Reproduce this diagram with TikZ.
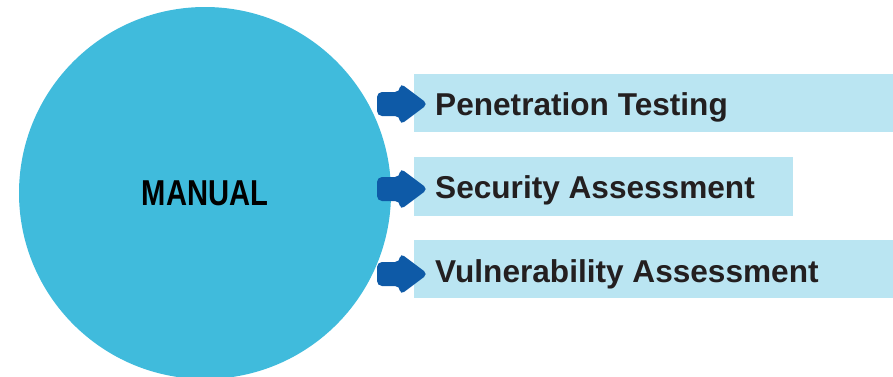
\documentclass[tikz,border=0pt]{standalone}
\usepackage{fontspec}
\setmainfont{Liberation Sans}
\definecolor{circblue}{HTML}{40BBDC}
\definecolor{barblue}{HTML}{BAE5F2}
\definecolor{arrblue}{HTML}{0E5AA7}
\definecolor{txt}{HTML}{231F20}
\tikzset{
  x=1pt,y=-1pt,
  bar/.style={fill=barblue,draw=none,anchor=north west,inner sep=0pt},
  label/.style={anchor=base west,inner sep=0pt,text=txt,font=\fontsize{31.6}{36}\selectfont\bfseries},
  arrowshape/.pic={
    \fill[arrblue,rounded corners=5pt] (-26,-12) -- (-3,-12) -- (-3,-21) -- (25,0) -- (-3,21) -- (-3,12) -- (-26,12) -- cycle;
  }
}
\begin{document}
\begin{tikzpicture}
\useasboundingbox (0,0) rectangle (893,376);
\clip (0,0) rectangle (893,376);
\node[circle,fill=circblue,minimum size=372pt,inner sep=0pt] (manual) at (205,193) {};
\node[text=black,font=\fontsize{36}{40}\selectfont\bfseries,inner sep=0pt] (manualtext) at (205,193) {\scalebox{0.81}[1]{MANUAL}};
\node[bar,minimum width=479pt,minimum height=58pt] (bar1) at (414,74) {};
\node[bar,minimum width=379pt,minimum height=59pt] (bar2) at (414,157) {};
\node[bar,minimum width=479pt,minimum height=58pt] (bar3) at (414,240) {};
\pic (arr1) at (403,104) {arrowshape};
\pic (arr2) at (403,189) {arrowshape};
\pic (arr3) at (403,274) {arrowshape};
\node[label] (t1) at (435,115) {Penetration Testing};
\node[label] (t2) at (435,198) {Security Assessment};
\node[label] (t3) at (435,282) {Vulnerability Assessment};
\end{tikzpicture}
\end{document}
